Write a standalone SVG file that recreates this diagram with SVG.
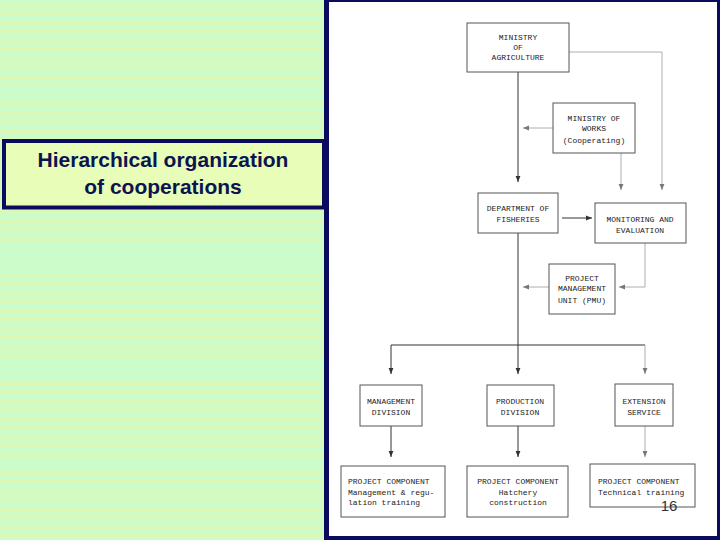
<svg xmlns="http://www.w3.org/2000/svg" width="720" height="540" viewBox="0 0 720 540">
<defs>
<pattern id="scan" x="0" y="3" width="330" height="9" patternUnits="userSpaceOnUse">
<rect x="0" y="0" width="330" height="4" fill="#daf8b8"/>
</pattern>
<marker id="ah" viewBox="0 0 10 10" refX="10" refY="5" markerWidth="6" markerHeight="6" markerUnits="userSpaceOnUse" orient="auto">
<path d="M0,1 L10,5 L0,9 z" fill="#333"/>
</marker>
<marker id="ahf" viewBox="0 0 10 10" refX="10" refY="5" markerWidth="6" markerHeight="6" markerUnits="userSpaceOnUse" orient="auto">
<path d="M0,1 L10,5 L0,9 z" fill="#777"/>
</marker>
</defs>
<style>
.box{fill:#fff;stroke:#555;stroke-width:1}
.t{font-family:"Liberation Mono","DejaVu Sans Mono",monospace;font-size:8px;fill:#222;text-anchor:middle}
.tl{font-family:"Liberation Mono","DejaVu Sans Mono",monospace;font-size:8px;fill:#222}
.c{fill:none;stroke:#333;stroke-width:1}
.cf{fill:none;stroke:#999;stroke-width:0.8}
.title{font-family:"Liberation Sans",Arial,sans-serif;font-weight:bold;font-size:21px;fill:#0c1450;text-anchor:middle}
</style>
<!-- left panel -->
<rect x="0" y="0" width="330" height="540" fill="#cdfccb"/>
<rect x="0" y="0" width="325" height="540" fill="url(#scan)"/>
<rect x="0" y="86" width="325" height="14" fill="#cdfccb"/>
<rect x="0" y="246" width="325" height="30" fill="#cdfccb"/>
<rect x="0" y="364" width="325" height="16" fill="#cdfccb"/>
<rect x="0" y="458" width="325" height="12" fill="#cdfccb"/>
<!-- frame -->
<rect x="324" y="0" width="396" height="540" fill="#0a0a5e"/>
<rect x="329" y="2" width="388" height="534" fill="#fff"/>
<!-- title box -->
<g id="title">
<rect x="4" y="141" width="320" height="66.5" fill="#e8fdb8" stroke="#0a0a5e" stroke-width="4"/>
<text class="title" x="163" y="167">Hierarchical organization</text>
<text class="title" x="163" y="194">of cooperations</text>
</g>
<!-- connectors -->
<g id="connectors">
<path class="c" d="M518,72 V182" marker-end="url(#ah)"/>
<path class="cf" d="M569,52 H662 V190" marker-end="url(#ahf)"/>
<path class="cf" d="M553,128 H523" marker-end="url(#ahf)"/>
<path class="cf" d="M621,153 V190" marker-end="url(#ahf)"/>
<path class="c" d="M562,218 H592" marker-end="url(#ah)"/>
<path class="cf" d="M645,243 V287 H619" marker-end="url(#ahf)"/>
<path class="cf" d="M549,287 H523" marker-end="url(#ahf)"/>
<path class="c" d="M518,233 V374" marker-end="url(#ah)"/>
<path class="c" d="M391,345 H645"/>
<path class="c" d="M391,345 V374" marker-end="url(#ah)"/>
<path class="cf" d="M645,345 V374" marker-end="url(#ahf)"/>
<path class="c" d="M391,426 V457" marker-end="url(#ah)"/>
<path class="c" d="M518,426 V457" marker-end="url(#ah)"/>
<path class="cf" d="M645,426 V457" marker-end="url(#ahf)"/>
</g>
<!-- nodes -->
<g id="ministry-agriculture">
<rect class="box" x="467" y="23" width="102" height="49"/>
<text class="t" x="518" y="40">MINISTRY</text>
<text class="t" x="518" y="50">OF</text>
<text class="t" x="518" y="60">AGRICULTURE</text>
</g>
<g id="ministry-works">
<rect class="box" x="553" y="103" width="82" height="50"/>
<text class="t" x="594" y="121">MINISTRY OF</text>
<text class="t" x="594" y="131">WORKS</text>
<text class="t" x="594" y="143">(Cooperating)</text>
</g>
<g id="dept-fisheries">
<rect class="box" x="478" y="193" width="80" height="40"/>
<text class="t" x="518" y="211">DEPARTMENT OF</text>
<text class="t" x="518" y="222">FISHERIES</text>
</g>
<g id="monitoring">
<rect class="box" x="595" y="203" width="91" height="40"/>
<text class="t" x="640" y="222">MONITORING AND</text>
<text class="t" x="640" y="233">EVALUATION</text>
</g>
<g id="pmu">
<rect class="box" x="549" y="264" width="66" height="50"/>
<text class="t" x="582" y="281">PROJECT</text>
<text class="t" x="582" y="291">MANAGEMENT</text>
<text class="t" x="582" y="303">UNIT (PMU)</text>
</g>
<g id="management-division">
<rect class="box" x="360" y="385" width="62" height="41"/>
<text class="t" x="391" y="404">MANAGEMENT</text>
<text class="t" x="391" y="415">DIVISION</text>
</g>
<g id="production-division">
<rect class="box" x="487" y="385" width="67" height="41"/>
<text class="t" x="520" y="404">PRODUCTION</text>
<text class="t" x="520" y="415">DIVISION</text>
</g>
<g id="extension-service">
<rect class="box" x="615" y="384" width="58" height="42"/>
<text class="t" x="644" y="404">EXTENSION</text>
<text class="t" x="644" y="415">SERVICE</text>
</g>
<g id="pc-management">
<rect class="box" x="341" y="466" width="104" height="51"/>
<text class="tl" x="348" y="484">PROJECT COMPONENT</text>
<text class="tl" x="348" y="495">Management &amp; regu-</text>
<text class="tl" x="348" y="505">lation training</text>
</g>
<g id="pc-hatchery">
<rect class="box" x="467" y="466" width="101" height="51"/>
<text class="t" x="518" y="484">PROJECT COMPONENT</text>
<text class="t" x="518" y="495">Hatchery</text>
<text class="t" x="518" y="505">construction</text>
</g>
<g id="pc-technical">
<rect class="box" x="590" y="464" width="105" height="43"/>
<text class="tl" x="598" y="484">PROJECT COMPONENT</text>
<text class="tl" x="598" y="495">Technical training</text>
</g>
<text x="669" y="511" font-family="Liberation Sans,Arial,sans-serif" font-size="15" fill="#333" text-anchor="middle">16</text>
</svg>
